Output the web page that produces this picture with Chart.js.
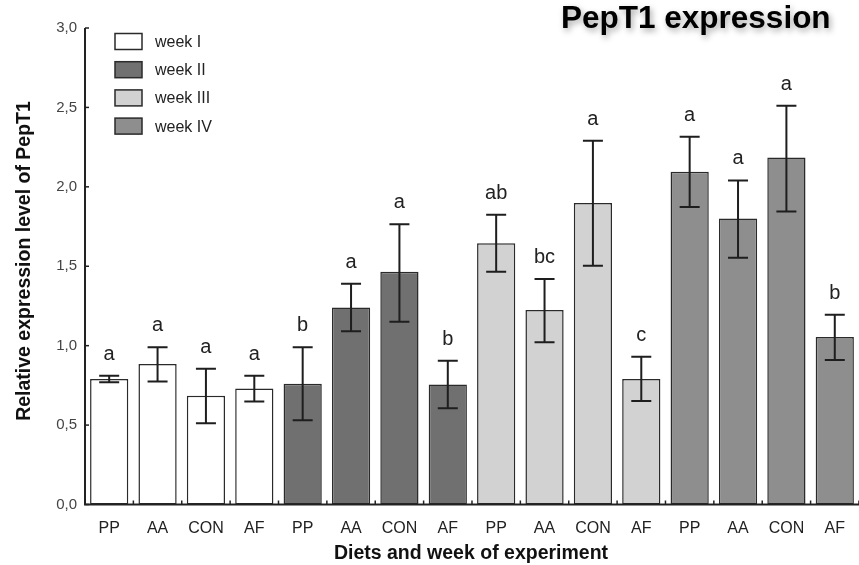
<!DOCTYPE html>
<html>
<head>
<meta charset="utf-8">
<script src="https://cdn.jsdelivr.net/npm/chart.js@4.4.1/dist/chart.umd.min.js"></script>
<style>
html,body{margin:0;padding:0;background:#fff;overflow:hidden;}
#wrap{position:relative;width:859px;height:565px;}
</style>
</head>
<body>
<div id="wrap"><canvas id="c" width="859" height="565"></canvas></div>
<script>
// ---- data ----
const categories = ["PP","AA","CON","AF","PP","AA","CON","AF","PP","AA","CON","AF","PP","AA","CON","AF"];
const weeks = ["week I","week II","week III","week IV"];
const means   = [0.79,0.885,0.685,0.73, 0.76,1.24,1.465,0.755, 1.645,1.225,1.898,0.79, 2.095,1.80,2.185,1.055];
const errHigh = [0.81,0.99,0.855,0.81, 0.99,1.39,1.765,0.905, 1.825,1.42,2.29,0.93, 2.315,2.04,2.51,1.195];
const errLow  = [0.77,0.775,0.512,0.648, 0.531,1.09,1.15,0.606, 1.465,1.022,1.503,0.652, 1.873,1.553,1.845,0.909];
const letters = ["a","a","a","a","b","a","a","b","ab","bc","a","c","a","a","a","b"];
const yTicks  = [0,0.5,1.0,1.5,2.0,2.5,3.0];
const weekOf  = [0,0,0,0,1,1,1,1,2,2,2,2,3,3,3,3];

const fills = ["#ffffff","#707070","#d2d2d2","#8e8e8e"];
const edge = "#2a2a2a";
const FONT = "'Liberation Sans', Arial, sans-serif";

const datasets = weeks.map((w,k)=>({
  label:w,
  data: means.map((v,i)=> weekOf[i]===k ? v : null),
  backgroundColor: fills[k],
  borderColor: edge,
  borderWidth: 1.5,
  borderSkipped: false,
  barPercentage: 0.79,
  categoryPercentage: 1.0
}));

const extras = {
  id:'extras',
  afterDatasetsDraw(chart){
    const {ctx, scales:{x,y}, chartArea:ca} = chart;
    ctx.save();
    // error bars and letters
    ctx.strokeStyle = "#1e1e1e";
    ctx.lineWidth = 2;
    means.forEach((m,i)=>{
      const cx = x.getPixelForValue(i);
      const yh = y.getPixelForValue(errHigh[i]);
      const yl = y.getPixelForValue(errLow[i]);
      ctx.beginPath();
      ctx.moveTo(cx,yh); ctx.lineTo(cx,yl);
      ctx.moveTo(cx-10,yh); ctx.lineTo(cx+10,yh);
      ctx.moveTo(cx-10,yl); ctx.lineTo(cx+10,yl);
      ctx.stroke();
      ctx.fillStyle = "#222";
      ctx.font = "20px " + FONT;
      ctx.textAlign = "center";
      ctx.textBaseline = "alphabetic";
      ctx.fillText(letters[i], cx, yh - 16);
    });
    // axis lines
    ctx.strokeStyle = "#222";
    ctx.lineWidth = 2;
    ctx.beginPath();
    ctx.moveTo(ca.left, ca.top); ctx.lineTo(ca.left, ca.bottom); ctx.lineTo(ca.right, ca.bottom);
    ctx.stroke();
    // inward y ticks
    ctx.lineWidth = 1.5;
    yTicks.forEach(t=>{
      const py = y.getPixelForValue(t);
      ctx.beginPath(); ctx.moveTo(ca.left, py); ctx.lineTo(ca.left+4, py); ctx.stroke();
    });
    // x boundary ticks
    for(let i=0;i<=categories.length;i++){
      const px = ca.left + (ca.right-ca.left)*i/categories.length;
      ctx.beginPath(); ctx.moveTo(px, ca.bottom); ctx.lineTo(px, ca.bottom-4); ctx.stroke();
    }
    // legend
    ctx.font = "16px " + FONT;
    ctx.textAlign = "left";
    ctx.textBaseline = "middle";
    weeks.forEach((w,k)=>{
      const cy = 41.5 + k*28.2;
      ctx.fillStyle = fills[k];
      ctx.fillRect(115, cy-8, 27, 16);
      ctx.strokeStyle = edge; ctx.lineWidth = 1.5;
      ctx.strokeRect(115, cy-8, 27, 16);
      ctx.fillStyle = "#222";
      ctx.fillText(w, 155, cy+1);
    });
    // axis titles
    ctx.fillStyle = "#111";
    ctx.font = "bold 19.5px " + FONT;
    ctx.textAlign = "center";
    ctx.textBaseline = "middle";
    ctx.fillText("Diets and week of experiment", 471, 554);
    ctx.save();
    ctx.translate(25, 261);
    ctx.rotate(-Math.PI/2);
    ctx.fillText("Relative expression level of PepT1", 0, 0);
    ctx.restore();
    // title
    ctx.save();
    ctx.font = "bold 31.5px " + FONT;
    ctx.textAlign = "left";
    ctx.textBaseline = "alphabetic";
    ctx.shadowColor = "rgba(0,0,0,0.35)";
    ctx.shadowBlur = 6;
    ctx.shadowOffsetX = 2;
    ctx.shadowOffsetY = 3;
    ctx.fillStyle = "#000";
    ctx.fillText("PepT1 expression", 561, 28);
    ctx.restore();
    ctx.restore();
  }
};

new Chart(document.getElementById('c'), {
  type:'bar',
  data:{ labels: categories, datasets },
  options:{
    responsive:false,
    animation:false,
    devicePixelRatio:1,
    layout:{ padding:{ top:28, right:0, left:0, bottom:0 } },
    plugins:{ legend:{display:false}, tooltip:{enabled:false}, title:{display:false} },
    scales:{
      x:{
        stacked:true,
        grid:{display:false, drawTicks:false},
        border:{display:false},
        ticks:{ color:"#222", font:{size:16, family:FONT}, padding:14, maxRotation:0, autoSkip:false },
        afterFit(s){ s.height = 60.5; }
      },
      y:{
        stacked:false,
        min:0, max:3,
        afterBuildTicks(s){ s.ticks = yTicks.map(v=>({value:v})); },
        grid:{display:false, drawTicks:false},
        border:{display:false},
        ticks:{
          color:"#444",
          font:{size:15, family:FONT},
          padding:8,
          callback:(v)=> Number(v).toFixed(1).replace('.',',')
        },
        afterFit(s){ s.width = 85; }
      }
    }
  },
  plugins:[extras]
});
</script>
</body>
</html>
